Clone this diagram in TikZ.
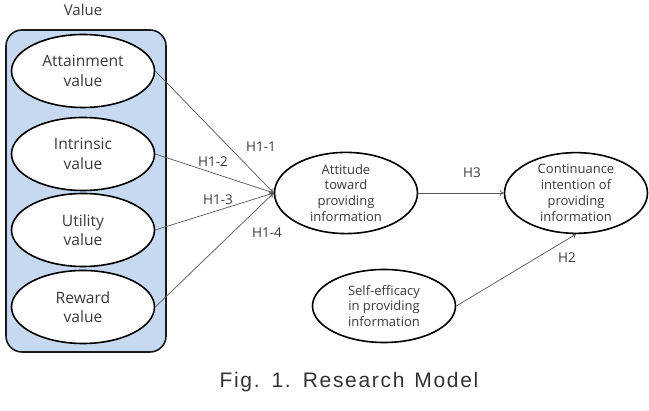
\documentclass[tikz,border=0pt]{standalone}
\usepackage{fontspec}
\setmainfont{Open Sans}
\newfontfamily\capfont[LetterSpace=8]{Liberation Sans}
\usetikzlibrary{shapes.geometric,arrows.meta}
\definecolor{groupfill}{HTML}{C6D9F1}
\definecolor{inktext}{HTML}{3A3A3A}
\definecolor{linkgray}{HTML}{555555}
\begin{document}
\begin{tikzpicture}[x=1pt,y=1pt,
  construct/.style={ellipse,draw=black,line width=1.6pt,fill=white,
    minimum width=143pt,minimum height=73pt,inner sep=0pt,align=center,
    text=inktext},
  bigtext/.style={font=\fontsize{15.6}{19.5}\selectfont},
  smalltext/.style={font=\fontsize{13}{15.8}\selectfont},
  hlabel/.style={text=inktext,font=\fontsize{13.5}{15}\selectfont,inner sep=0pt},
  link/.style={draw=linkgray,line width=0.7pt,-{To[length=4pt,width=6pt]}}]
\useasboundingbox (0,0) rectangle (649,411);

% grouping box for the value constructs
\node (valuebox) [draw=black!90,line width=1.6pt,fill=groupfill,rounded corners=16pt,
  minimum width=160pt,minimum height=322pt] at (86,220) {};
\node (valuelabel) [hlabel,font=\fontsize{15}{17}\selectfont] at (83,401) {Value};

% value constructs
\node (att) [construct,bigtext] at (83,340) {Attainment\\value};
\node (intr) [construct,bigtext] at (83,257) {Intrinsic\\value};
\node (util) [construct,bigtext] at (83,181) {Utility\\value};
\node (rew) [construct,bigtext] at (83,104) {Reward\\value};

% outcome constructs
\node (attitude) [construct,smalltext] at (346,218) {Attitude\\toward\\providing\\information};
\node (cont) [construct,smalltext] at (576,218) {Continuance\\intention of\\providing\\information};
\node (self) [construct,smalltext] at (384,105) {Self-efficacy\\in providing\\information};

% hypothesised paths
\draw[link] (att.east) -- (attitude.west);
\draw[link] (intr.east) -- (attitude.west);
\draw[link] (util.east) -- (attitude.west);
\draw[link] (rew.east) -- (attitude.west);
\draw[link] (attitude.east) -- (cont.west);
\draw[link] (self.east) -- (cont.south);

% path labels
\node (h11) [hlabel] at (261,264) {H1-1};
\node (h12) [hlabel] at (213,249) {H1-2};
\node (h13) [hlabel] at (218,211) {H1-3};
\node (h14) [hlabel] at (267,178) {H1-4};
\node (h3) [hlabel] at (472,238) {H3};
\node (h2) [hlabel] at (567,153) {H2};

% caption
\node (caption) [text=black!80,font=\capfont\fontsize{21}{24}\selectfont] at (349,29)
  {Fig.\hspace{12pt}1.\hspace{12pt}Research\hspace{10pt}Model};
\end{tikzpicture}
\end{document}
